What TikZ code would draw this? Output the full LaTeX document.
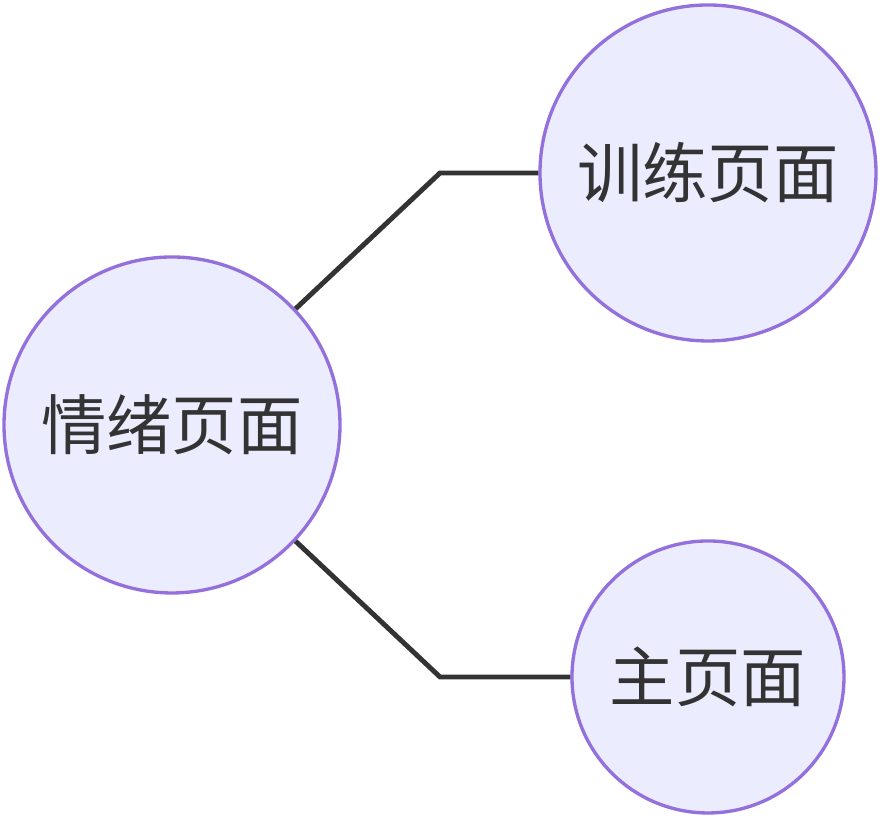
\documentclass[tikz,border=0pt]{standalone}
\usepackage{fontspec}
\newfontfamily\cjk{Noto Sans CJK SC}
\usetikzlibrary{positioning}
\definecolor{nodefill}{HTML}{ECECFF}
\definecolor{nodeline}{HTML}{9370DB}
\definecolor{edgeline}{HTML}{333333}

\begin{document}
\begin{tikzpicture}[edgeline, line width = 1.4pt,
        page/.style = {circle, draw = nodeline, line width = 0.95pt, fill = nodefill,
            inner sep = 0pt, text = edgeline, font = \cjk\fontsize{18.6}{22}\selectfont},]
    \useasboundingbox[] (0,0) rectangle (8.82,8.18);

    %\draw[help lines, opacity = 0.1] (0,0) grid (9,9);

    \node (mood) at (1.72,3.93) [page, minimum size = 3.36cm] {情绪页面};
    \node (train) at (7.08,6.45) [page, minimum size = 3.36cm] {训练页面};
    \node (home) at (7.08,1.41) [page, minimum size = 2.72cm] {主页面};

    \coordinate (b1) at (4.40,6.45);
    \coordinate (b2) at (4.40,1.41);

    \draw (mood) -- (b1) -- (train);
    \draw (mood) -- (b2) -- (home);

\end{tikzpicture}
\end{document}
